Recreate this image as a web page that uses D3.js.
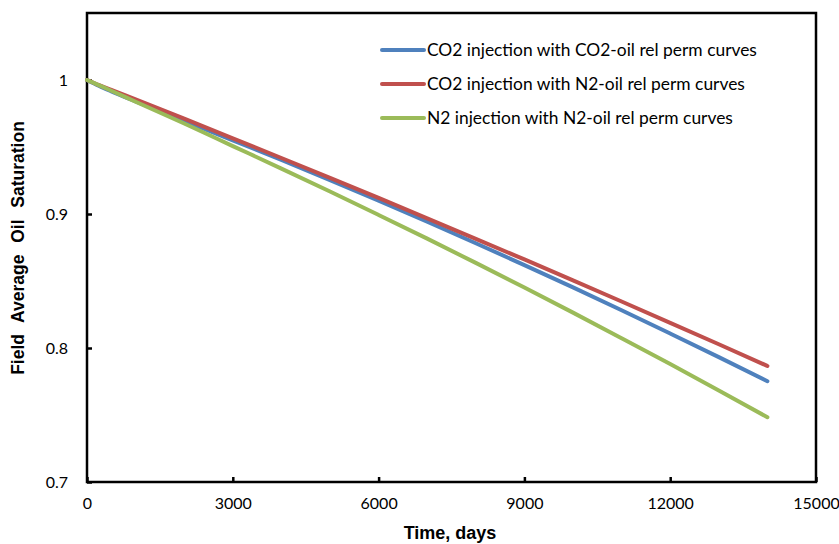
<!DOCTYPE html>
<html><head><meta charset="utf-8">
<script src="https://cdn.jsdelivr.net/npm/d3@7"></script>
<style>body{margin:0;background:#fff}svg{display:block}</style>
</head><body>
<svg id="chart" width="839" height="544"></svg>
<script>
const days = [0, 250, 500, 1000, 2000, 3000, 4000, 5000, 6000, 7000, 8000, 9000, 10000, 11000, 12000, 13000, 14000];
const co2WithCo2Perm = [1.0, 0.9955, 0.9915, 0.984, 0.9695, 0.955, 0.9403, 0.9253, 0.9099, 0.8942, 0.8782, 0.8619, 0.8452, 0.8282, 0.8108, 0.7932, 0.7752];
const co2WithN2Perm  = [1.0, 0.9962, 0.9926, 0.9855, 0.9711, 0.9565, 0.9418, 0.9270, 0.9120, 0.8968, 0.8815, 0.8661, 0.8505, 0.8347, 0.8188, 0.8028, 0.7866];
const n2WithN2Perm   = [1.0, 0.996, 0.992, 0.9838, 0.9675, 0.9507, 0.9339, 0.9168, 0.8993, 0.8816, 0.8635, 0.8451, 0.8264, 0.8073, 0.7880, 0.7683, 0.7483];
const seriesNames = ["CO2 injection with CO2-oil rel perm curves", "CO2 injection with N2-oil rel perm curves", "N2 injection with N2-oil rel perm curves"];
const seriesColors = ["#4f81bd", "#c0504d", "#9bbb59"];
const xTicks = [0, 3000, 6000, 9000, 12000, 15000];
const yTicks = [0.7, 0.8, 0.9, 1.0];

const svg = d3.select("#chart");
const L = 87, R = 816, T = 13, B = 482;
const x = d3.scaleLinear().domain([0, 15000]).range([L, R]);
const y = d3.scaleLinear().domain([0.7, 1.05]).range([B, T]);
const font = "Lato, 'Open Sans', sans-serif";

// axes
const xAxis = svg.append("g").attr("transform", `translate(0,${B})`)
  .call(d3.axisBottom(x).tickValues(xTicks).tickSizeInner(-5).tickSizeOuter(0).tickPadding(16).tickFormat(d3.format("d")));
const yAxis = svg.append("g").attr("transform", `translate(${L},0)`)
  .call(d3.axisLeft(y).tickValues(yTicks).tickSizeInner(-5).tickSizeOuter(0).tickPadding(19).tickFormat(d => d === 1 ? "1" : d3.format(".1f")(d)));
[xAxis, yAxis].forEach(g => {
  g.select(".domain").remove();
  g.selectAll(".tick line").attr("stroke", "#000").attr("stroke-width", 2.5);
  g.selectAll(".tick text").attr("font-family", font).attr("font-size", 16).attr("fill", "#000");
});

// frame
svg.append("rect").attr("x", L).attr("y", T).attr("width", R - L).attr("height", B - T)
  .attr("fill", "none").attr("stroke", "#000").attr("stroke-width", 2.5);

// lines
const allSeries = [co2WithCo2Perm, co2WithN2Perm, n2WithN2Perm];
const line = d3.line().x((d, i) => x(days[i])).y(d => y(d)).curve(d3.curveMonotoneX);
allSeries.forEach((s, k) => {
  svg.append("path").datum(s).attr("d", line).attr("fill", "none")
    .attr("stroke", seriesColors[k]).attr("stroke-width", 4).attr("stroke-linecap", "round");
});

// legend
const lg = svg.append("g");
seriesNames.forEach((n, k) => {
  const yy = 50 + k * 34;
  lg.append("line").attr("x1", 382).attr("x2", 424).attr("y1", yy).attr("y2", yy)
    .attr("stroke", seriesColors[k]).attr("stroke-width", 4).attr("stroke-linecap", "round");
  lg.append("text").attr("x", 427).attr("y", yy + 6).text(n)
    .attr("font-family", font).attr("font-size", 17.4).attr("fill", "#000");
});

// axis titles
const tfont = "'Liberation Sans', Arial, sans-serif";
svg.append("text").attr("x", 450).attr("y", 539).attr("text-anchor", "middle")
  .attr("font-family", tfont).attr("font-weight", "bold").attr("font-size", 18)
  .text("Time, days");
svg.append("text").attr("transform", "translate(24,248) rotate(-90)").attr("text-anchor", "middle")
  .attr("font-family", tfont).attr("font-weight", "bold").attr("font-size", 17.5)
  .style("white-space", "pre").style("word-spacing", "1px").text("Field  Average  Oil  Saturation");
</script>
</body></html>
